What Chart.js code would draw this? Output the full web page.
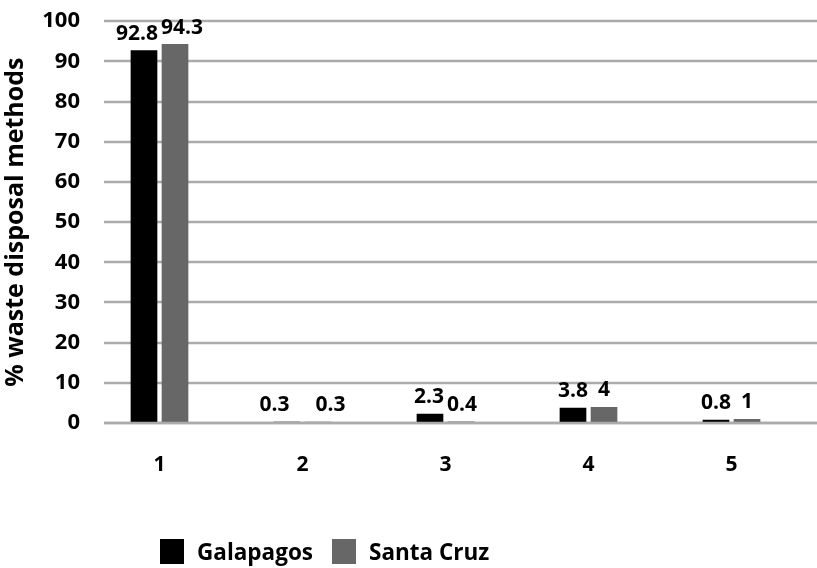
<!DOCTYPE html>
<html>
<head>
<meta charset="utf-8">
<script src="https://cdn.jsdelivr.net/npm/chart.js@4/dist/chart.umd.min.js"></script>
<style>
  html, body { margin: 0; padding: 0; background: #fff; }
  #wrap { position: relative; width: 817px; height: 568px; }
  #legend {
    position: absolute; left: 160px; top: 538px; height: 26px;
    display: flex; align-items: center;
    font: 700 22.5px "Open Sans", sans-serif; color: #000;
  }
  .item { display: flex; align-items: center; margin-right: 19px; }
  .sw { width: 24px; height: 25px; margin-right: 13px; }
</style>
</head>
<body>
<div id="wrap">
  <canvas id="c" width="817" height="568"></canvas>
  <div id="legend"></div>
</div>
<script>
// Disposal method categories and the share (%) of households using each
const categories = ['1', '2', '3', '4', '5'];
const galapagos = [92.8, 0.3, 2.3, 3.8, 0.8];
const santaCruz = [94.3, 0.3, 0.4, 4, 1];
const seriesNames = ['Galapagos', 'Santa Cruz'];
const seriesColors = ['#000000', '#676767'];
const yTickValues = [0, 10, 20, 30, 40, 50, 60, 70, 80, 90, 100];

const FONT = '"Open Sans", sans-serif';

// Horizontal gridlines, drawn behind the bars; the zero line is redrawn on top
function drawHLine(chart, v) {
  const { ctx } = chart;
  const py = Math.round(chart.scales.y.getPixelForValue(v));
  ctx.beginPath();
  ctx.moveTo(104, py);
  ctx.lineTo(chart.width, py);
  ctx.stroke();
}
const gridPlugin = {
  id: 'hgrid',
  beforeDatasetsDraw(chart) {
    const { ctx } = chart;
    ctx.save();
    ctx.strokeStyle = '#ababab';
    ctx.lineWidth = 2.5;
    yTickValues.forEach(v => drawHLine(chart, v));
    ctx.restore();
  },
  afterDatasetsDraw(chart) {
    const { ctx } = chart;
    ctx.save();
    ctx.strokeStyle = '#ababab';
    ctx.lineWidth = 2.5;
    drawHLine(chart, 0);
    ctx.restore();
  }
};

// Value labels above each bar; labels in one category are kept at least minGap apart
const valueLabelPlugin = {
  id: 'valueLabels',
  afterDatasetsDraw(chart, args, opts) {
    const { ctx } = chart;
    ctx.save();
    ctx.font = '700 21px ' + FONT;
    ctx.fillStyle = '#000';
    ctx.textAlign = 'center';
    ctx.textBaseline = 'bottom';
    categories.forEach((c, i) => {
      const gap = opts.minGap[i];
      const items = chart.data.datasets.map((ds, d) => {
        const el = chart.getDatasetMeta(d).data[i];
        const text = String(ds.data[i]);
        return { text, x: el.x, y: el.y - 6, w: ctx.measureText(text).width };
      });
      for (let k = 1; k < items.length; k++) {
        const a = items[k - 1], b = items[k];
        const overlap = (a.w / 2 + b.w / 2 + gap) - (b.x - a.x);
        if (overlap > 0) { a.x -= overlap / 2; b.x += overlap / 2; }
      }
      items.forEach(it => ctx.fillText(it.text, it.x, it.y));
    });
    ctx.restore();
  }
};

new Chart(document.getElementById('c'), {
  type: 'bar',
  data: {
    labels: categories,
    datasets: [
      { label: seriesNames[0], data: galapagos, backgroundColor: seriesColors[0] },
      { label: seriesNames[1], data: santaCruz, backgroundColor: seriesColors[1] }
    ]
  },
  options: {
    responsive: false,
    animation: false,
    events: [],
    layout: { padding: { top: 18, right: 14, bottom: 85, left: 0 } },
    datasets: { bar: { categoryPercentage: 0.434, barPercentage: 0.86 } },
    plugins: {
      legend: { display: false },
      tooltip: { enabled: false },
      valueLabels: { minGap: [3, 26, 3, 3, 3] }
    },
    scales: {
      x: {
        grid: { display: false, drawTicks: false },
        border: { display: false },
        ticks: { color: '#000', padding: 29, font: { family: FONT, size: 21, weight: '700' } },
        afterFit(s) { s.height = 60; }
      },
      y: {
        min: 0, max: 100,
        grid: { display: false, drawTicks: false },
        border: { display: false },
        ticks: { stepSize: 10, color: '#000', padding: 8, font: { family: FONT, size: 22, weight: '700' } },
        title: {
          display: true, text: '% waste disposal methods', color: '#000',
          padding: { top: 1, bottom: 0 },
          font: { family: FONT, size: 25, weight: '700' }
        },
        afterFit(s) { s.width = 88; }
      }
    }
  },
  plugins: [gridPlugin, valueLabelPlugin]
});

// Legend below the plot
const legend = document.getElementById('legend');
seriesNames.forEach((name, i) => {
  const item = document.createElement('div');
  item.className = 'item';
  const sw = document.createElement('div');
  sw.className = 'sw';
  sw.style.background = seriesColors[i];
  const label = document.createElement('span');
  label.textContent = name;
  item.appendChild(sw);
  item.appendChild(label);
  legend.appendChild(item);
});
</script>
</body>
</html>
